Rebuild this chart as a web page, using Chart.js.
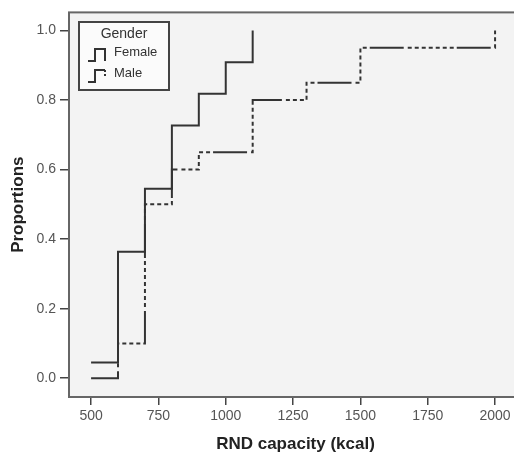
<!DOCTYPE html>
<html>
<head>
<meta charset="utf-8">
<script src="https://cdn.jsdelivr.net/npm/chart.js@4.4.0/dist/chart.umd.min.js"></script>
<style>
  html, body { margin: 0; padding: 0; background: #fff; overflow: hidden; }
  canvas { display: block; }
</style>
</head>
<body>
<canvas id="ecdfChart" width="530" height="457"></canvas>
<script>
// data
const xTicks = [500, 750, 1000, 1250, 1500, 1750, 2000];
const yTicks = [0, 0.2, 0.4, 0.6, 0.8, 1.0];
const femaleX = [500, 600, 700, 800, 900, 1000, 1100];
const femaleY = [0.045, 0.364, 0.545, 0.727, 0.818, 0.909, 1.0];
const maleX = [500, 600, 700, 800, 900, 1100, 1300, 1500, 2000];
const maleY = [0, 0.1, 0.5, 0.6, 0.65, 0.8, 0.85, 0.95, 1.0];

const lineColor = "#333";
const maleDash = [34, 4, 4, 3, 4, 3, 4, 3, 4, 3, 4, 3, 4, 3, 4, 3];

const ctx = document.getElementById("ecdfChart").getContext("2d");

const frame = {
  id: "frame",
  beforeDatasetsDraw(chart) {
    const { left, top, right, bottom } = chart.chartArea;
    const c = chart.ctx;
    c.save();
    c.fillStyle = "#f3f3f3";
    c.fillRect(left, top, right - left, bottom - top);
    c.restore();
  },
  afterDatasetsDraw(chart) {
    const { left, top, right, bottom } = chart.chartArea;
    const c = chart.ctx;
    c.save();
    c.strokeStyle = "#666";
    c.lineWidth = 2;
    c.strokeRect(left, top, right - left, bottom - top);
    c.restore();
  },
};

// legend box drawn by hand, SPSS style
const genderLegend = {
  id: "genderLegend",
  afterDraw(chart) {
    const c = chart.ctx;
    const bx = 79, by = 22, bw = 90, bh = 68;
    c.save();
    c.fillStyle = "#fbfbfb";
    c.fillRect(bx, by, bw, bh);
    c.strokeStyle = "#444";
    c.lineWidth = 2;
    c.strokeRect(bx, by, bw, bh);

    c.fillStyle = "#333";
    c.font = "14px 'Liberation Sans', Arial, sans-serif";
    c.textAlign = "center";
    c.textBaseline = "alphabetic";
    c.fillText("Gender", bx + bw / 2, 38);

    c.textAlign = "left";
    c.font = "13px 'Liberation Sans', Arial, sans-serif";
    chart.data.datasets.forEach((ds, i) => {
      const y0 = 61 + i * 21;
      c.strokeStyle = lineColor;
      c.lineWidth = 2;
      c.setLineDash([]);
      c.beginPath();
      c.moveTo(88, y0);
      c.lineTo(95, y0);
      c.lineTo(95, y0 - 12);
      c.lineTo(105, y0 - 12);
      if (i === 0) c.lineTo(105, y0);
      c.stroke();
      if (i === 1) {
        c.setLineDash([2, 2]);
        c.beginPath();
        c.moveTo(105, y0 - 12);
        c.lineTo(105, y0 - 4);
        c.stroke();
        c.setLineDash([]);
      }
      c.fillStyle = "#333";
      c.fillText(ds.label, 114, y0 - 5);
    });
    c.restore();
  },
};

const chart = new Chart(ctx, {
  type: "line",
  data: {
    datasets: [
      {
        label: "Female",
        data: femaleX.map((x, i) => ({ x: x, y: femaleY[i] })),
        borderColor: lineColor,
        borderWidth: 2,
        stepped: "before",
        pointRadius: 0,
        fill: false,
      },
      {
        label: "Male",
        data: maleX.map((x, i) => ({ x: x, y: maleY[i] })),
        borderColor: lineColor,
        borderWidth: 2,
        borderDash: maleDash,
        stepped: "before",
        pointRadius: 0,
        fill: false,
      },
    ],
  },
  options: {
    responsive: false,
    animation: false,
    layout: { padding: { top: 11, right: 8, left: 0, bottom: 0 } },
    plugins: {
      legend: { display: false },
      tooltip: { enabled: false },
    },
    scales: {
      x: {
        type: "linear",
        min: 418,
        max: 2100,
        afterBuildTicks: (s) => { s.ticks = xTicks.map((v) => ({ value: v })); },
        afterFit: (s) => { s.height = 60; },
        grid: { drawOnChartArea: false, color: "#444", tickLength: 8, lineWidth: 1.5 },
        border: { display: false },
        ticks: {
          color: "#555",
          padding: 3,
          maxRotation: 0,
          font: { family: "'Liberation Sans', Arial, sans-serif", size: 14 },
          callback: (v) => String(v),
        },
        title: {
          display: true,
          text: "RND capacity (kcal)",
          color: "#222",
          padding: { top: 0, bottom: 2 },
          font: { family: "'Liberation Sans', Arial, sans-serif", size: 17, weight: "bold" },
        },
      },
      y: {
        type: "linear",
        min: -0.054,
        max: 1.052,
        afterBuildTicks: (s) => { s.ticks = yTicks.map((v) => ({ value: v })); },
        afterFit: (s) => { s.width = 69; },
        grid: { drawOnChartArea: false, color: "#444", tickLength: 9, lineWidth: 1.5 },
        border: { display: false },
        ticks: {
          color: "#555",
          padding: 4,
          font: { family: "'Liberation Sans', Arial, sans-serif", size: 14 },
          callback: (v) => v.toFixed(1),
        },
        title: {
          display: true,
          text: "Proportions",
          color: "#222",
          padding: { top: 8, bottom: 0 },
          font: { family: "'Liberation Sans', Arial, sans-serif", size: 17, weight: "bold" },
        },
      },
    },
  },
  plugins: [frame, genderLegend],
});
</script>
</body>
</html>
